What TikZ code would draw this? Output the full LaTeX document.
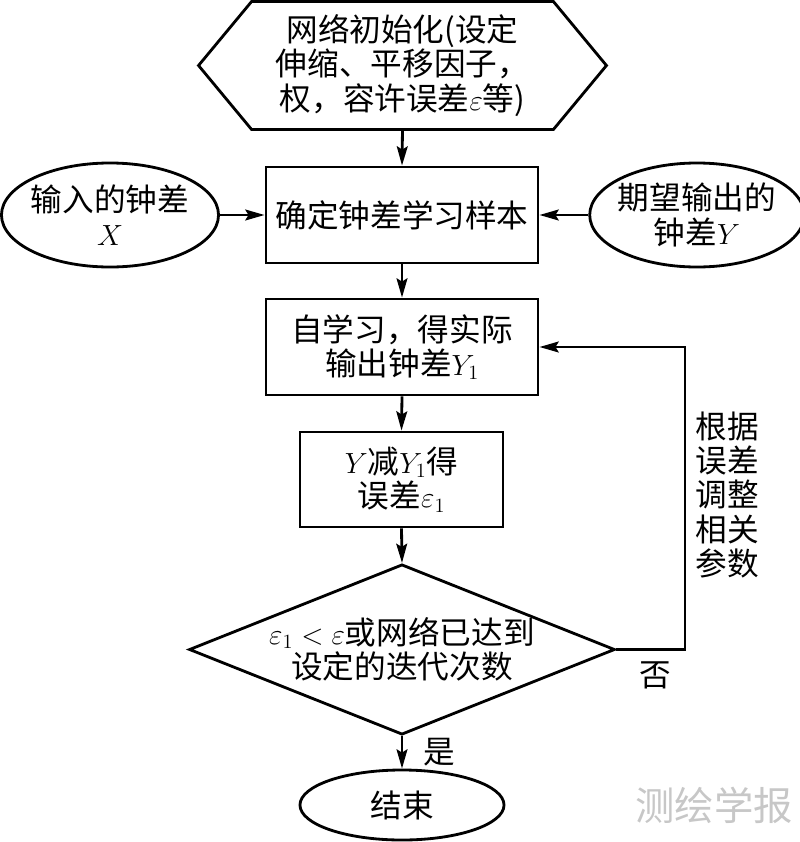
\documentclass[tikz,border=0pt]{standalone}
\usepackage{fontspec}
\setmainfont{Noto Sans CJK SC}
\usetikzlibrary{shapes.geometric, arrows.meta, calc}
\tikzset{>={Stealth[length=4.8mm, width=2.7mm, inset=0.8mm]}}

\begin{document}
\begin{tikzpicture}[x=0.025cm, y=-0.025cm, line width=2pt,
  font=\fontsize{22.5}{24.5}\selectfont,
  box/.style={draw, rectangle, align=center, inner sep=0pt},
  oval/.style={draw, ellipse, align=center, inner sep=-2.3pt}]
\useasboundingbox (0,0) rectangle (800,842);
\node (init) at (402.5,65.5) [minimum width=10.125cm, minimum height=3.125cm, align=center] {网络初始化(设定\\伸缩、平移因子，\\权，容许误差$\varepsilon$等)};
\draw (init.west) -- ($(init.north west)+(53,0)$) -- ($(init.north east)+(-53,0)$) -- (init.east) -- ($(init.south east)+(-53,0)$) -- ($(init.south west)+(53,0)$) -- cycle;
\node (sample) at (402,215) [box, minimum width=6.8cm, minimum height=2.4cm] {确定钟差学习样本};
\node (input) at (110,215) [oval, minimum width=5.425cm, minimum height=2.6cm] {输入的钟差\\$X$};
\node (expect) at (697,215) [oval, minimum width=5.25cm, minimum height=2.6cm] {期望输出的\\钟差$Y$};
\node (learn) at (402,347) [box, minimum width=6.8cm, minimum height=2.4cm] {自学习，得实际\\输出钟差$Y_1$};
\node (diff) at (401.5,479.5) [box, minimum width=5.075cm, minimum height=2.375cm] {$Y$减$Y_1$得\\误差$\varepsilon_1$};
\node (cond) at (402,649.5) [draw, diamond, aspect=2.5, inner sep=0pt, minimum width=10.6cm, minimum height=4.225cm, align=center] {$\varepsilon_1<\varepsilon$或网络已达到\\设定的迭代次数};
\node (stop) at (402,805) [oval, minimum width=5.1cm, minimum height=1.75cm] {结束};
\coordinate (back) at (685,649.5);
\draw [->] (init.south) -- (sample.north);
\draw [->] (input.east) -- (sample.west);
\draw [->] (expect.west) -- (sample.east);
\draw [->] (sample.south) -- (learn.north);
\draw [->] (learn.south) -- (diff.north);
\draw [->] (diff.south) -- (cond.north);
\draw [->] (cond.south) -- (stop.north);
\draw [->] (cond.east) -- (back) |- (learn.east);
\node (adjust) at (727,495) [align=center] {根据\\误差\\调整\\相关\\参数};
\node (no) at (655,675) {否};
\node (yes) at (439,752) {是};
\node (mark) at (714,805) [text=black!22, font=\fontsize{28}{30}\selectfont] {测绘学报};
\end{tikzpicture}
\end{document}
